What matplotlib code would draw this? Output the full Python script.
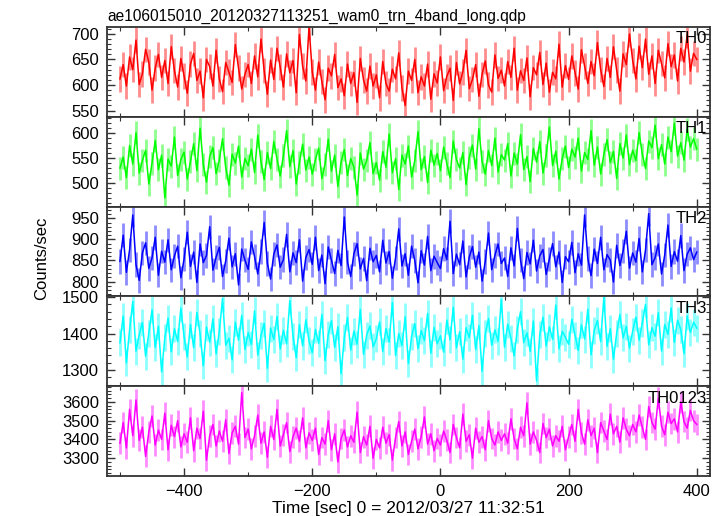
import matplotlib
matplotlib.use("Agg")
import matplotlib.pyplot as plt
import numpy as np
from matplotlib.ticker import MultipleLocator

plt.rcParams['font.family'] = ['Liberation Sans', 'DejaVu Sans']

# light curves, 5 s bins from -500 to 400 s
th0 = [612, 640, 598, 655, 630, 688, 601, 622, 670, 645, 590, 633, 660, 615, 648, 603, 675, 628, 596, 652,
       618, 584, 641, 662, 609, 627, 575, 650, 636, 598, 668, 612, 587, 644, 625, 605, 679, 633, 592, 621,
       640, 603, 657, 616, 690, 628, 582, 649, 611, 672, 635, 596, 661, 624, 648, 585, 699, 637, 608, 714,
       626, 590, 645, 607, 571, 633, 618, 660, 595, 612, 579, 641, 603, 624, 566, 652, 610, 588, 637, 598,
       620, 575, 646, 603, 588, 631, 612, 663, 594, 560, 627, 609, 650, 585, 616, 598, 641, 572, 622, 604,
       655, 589, 617, 633, 570, 644, 602, 626, 668, 593, 611, 640, 578, 621, 647, 600, 586, 659, 613, 629,
       598, 646, 615, 672, 590, 628, 609, 653, 577, 634, 620, 664, 601, 643, 586, 625, 612, 680, 596, 638,
       611, 657, 624, 592, 669, 637, 603, 646, 618, 683, 630, 597, 652, 615, 675, 629, 588, 661, 640, 700,
       648, 612, 676, 634, 690, 621, 657, 603, 668, 642, 614, 681, 636, 659, 608, 672, 645, 698, 627, 662, 650]
th1 = [530, 552, 511, 575, 538, 601, 520, 545, 566, 498, 540, 585, 527, 556, 470, 548, 534, 592, 515, 547,
       562, 508, 544, 579, 525, 610, 537, 502, 553, 571, 519, 546, 589, 531, 496, 558, 540, 574, 512, 549,
       535, 568, 521, 596, 543, 507, 561, 529, 583, 548, 514, 555, 605, 533, 565, 498, 541, 578, 526, 552,
       518, 547, 570, 509, 538, 588, 524, 556, 493, 542, 567, 515, 549, 532, 476, 560, 528, 545, 581, 519,
       541, 506, 563, 532, 598, 521, 549, 487, 556, 538, 574, 512, 545, 603, 527, 553, 501, 566, 536, 559,
       525, 572, 539, 511, 584, 547, 530, 561, 497, 552, 576, 528, 609, 543, 518, 565, 535, 590, 522, 557,
       546, 579, 514, 560, 538, 597, 527, 553, 503, 569, 542, 583, 520, 556, 612, 535, 564, 508, 549, 574,
       531, 568, 552, 590, 524, 561, 547, 605, 536, 572, 518, 558, 587, 541, 563, 509, 579, 550, 596, 537,
       566, 545, 601, 558, 529, 584, 571, 616, 549, 577, 538, 592, 563, 620, 554, 581, 546, 608, 572, 589, 568]
th2 = [848, 910, 822, 875, 958, 840, 803, 868, 892, 831, 856, 905, 815, 872, 846, 899, 828, 861, 884, 809,
       853, 917, 836, 870, 798, 889, 845, 862, 930, 827, 858, 881, 812, 849, 903, 835, 866, 792, 877, 851,
       829, 894, 859, 818, 871, 940, 843, 806, 865, 887, 834, 852, 912, 823, 868, 845, 899, 801, 857, 876,
       841, 905, 826, 863, 795, 882, 850, 819, 874, 838, 953, 846, 812, 866, 890, 830, 855, 802, 879, 847,
       862, 823, 898, 844, 871, 808, 856, 925, 837, 866, 815, 884, 850, 797, 873, 839, 907, 826, 860, 845,
       831, 878, 852, 943, 819, 865, 840, 896, 811, 858, 883, 834, 870, 801, 848, 915, 828, 862, 889, 843,
       856, 812, 880, 837, 926, 851, 807, 869, 842, 898, 825, 861, 876, 817, 853, 890, 835, 870, 798, 859,
       847, 893, 821, 866, 839, 958, 855, 814, 877, 843, 905, 828, 864, 851, 799, 886, 838, 872, 919, 832,
       868, 846, 902, 823, 875, 961, 840, 857, 889, 818, 863, 934, 836, 871, 848, 909, 826, 865, 880, 852, 870]
th3 = [1375, 1448, 1320, 1410, 1488, 1352, 1396, 1430, 1338, 1401, 1465, 1362, 1420, 1295, 1388, 1442, 1350, 1413, 1378, 1470,
       1392, 1336, 1425, 1361, 1458, 1399, 1312, 1418, 1376, 1440, 1345, 1405, 1496, 1368, 1387, 1328, 1431, 1382, 1450, 1357,
       1403, 1370, 1462, 1341, 1395, 1428, 1305, 1415, 1384, 1447, 1358, 1409, 1372, 1490, 1393, 1334, 1424, 1366, 1438, 1380,
       1348, 1411, 1373, 1452, 1326, 1398, 1435, 1362, 1419, 1290, 1389, 1444, 1355, 1407, 1371, 1466, 1343, 1396, 1421, 1364,
       1386, 1432, 1351, 1414, 1377, 1485, 1340, 1400, 1367, 1446, 1318, 1392, 1427, 1359, 1408, 1381, 1455, 1346, 1417, 1372,
       1394, 1349, 1437, 1383, 1472, 1361, 1405, 1330, 1416, 1389, 1450, 1356, 1422, 1297, 1399, 1441, 1368, 1410, 1379, 1493,
       1363, 1426, 1387, 1339, 1412, 1460, 1375, 1402, 1351, 1434, 1270, 1397, 1445, 1366, 1418, 1384, 1478, 1358, 1406, 1390,
       1371, 1439, 1396, 1354, 1424, 1385, 1467, 1342, 1409, 1436, 1378, 1499, 1365, 1413, 1330, 1401, 1452, 1388, 1420, 1360,
       1407, 1445, 1382, 1429, 1480, 1369, 1416, 1393, 1457, 1352, 1425, 1398, 1470, 1376, 1437, 1411, 1345, 1448, 1403, 1431, 1415]
th0123 = [3380, 3490, 3355, 3560, 3420, 3610, 3395, 3465, 3310, 3440, 3525, 3370, 3450, 3400, 3540, 3345, 3475, 3415, 3500, 3360,
          3430, 3385, 3515, 3340, 3460, 3405, 3550, 3290, 3420, 3480, 3365, 3445, 3390, 3505, 3325, 3435, 3470, 3375, 3650, 3410,
          3455, 3350, 3420, 3530, 3380, 3440, 3305, 3470, 3400, 3560, 3365, 3425, 3490, 3335, 3415, 3460, 3390, 3515, 3355, 3435,
          3395, 3460, 3320, 3410, 3375, 3500, 3345, 3430, 3280, 3405, 3450, 3360, 3420, 3385, 3545, 3330, 3415, 3370, 3470, 3300,
          3400, 3355, 3465, 3380, 3425, 3290, 3410, 3495, 3365, 3440, 3320, 3390, 3455, 3350, 3415, 3520, 3375, 3430, 3340, 3405,
          3370, 3445, 3395, 3330, 3480, 3410, 3355, 3535, 3390, 3425, 3300, 3460, 3385, 3415, 3345, 3500, 3405, 3370, 3440, 3395,
          3430, 3380, 3510, 3405, 3350, 3465, 3420, 3595, 3375, 3440, 3395, 3330, 3485, 3410, 3455, 3365, 3420, 3390, 3470, 3345,
          3415, 3480, 3390, 3560, 3435, 3375, 3505, 3420, 3460, 3330, 3490, 3445, 3400, 3535, 3430, 3470, 3385, 3515, 3455, 3420,
          3480, 3440, 3530, 3465, 3400, 3575, 3490, 3455, 3620, 3470, 3425, 3545, 3485, 3510, 3440, 3600, 3495, 3460, 3555, 3500, 3480]

series = [th0, th1, th2, th3, th0123]
names = ["TH0", "TH1", "TH2", "TH3", "TH0123"]
errors = [25, 23, 29, 37, 58]
colors = ["#ff0000", "#00ff00", "#0000ff", "#00ffff", "#ff00ff"]
ylims = [(538, 714), (453, 633), (765, 978), (1256, 1502), (3205, 3684)]
ymajor = [50, 50, 50, 100, 100]
yminor = [10, 10, 10, 20, 20]

t_start, t_bin = -500, 5

fig, axes = plt.subplots(5, 1, figsize=(7.24, 5.16), dpi=100, sharex=True)
fig.subplots_adjust(left=0.148, right=0.981, top=0.948, bottom=0.0775, hspace=0)

for ax, y, name, err, c, yl, mj, mn in zip(axes, series, names, errors, colors, ylims, ymajor, yminor):
    y = np.array(y)
    t = t_start + t_bin * np.arange(len(y))
    # error bars in a lighter shade, then the light curve itself
    ax.vlines(t, y - err, y + err, color=c, alpha=0.45, lw=2.0)
    ax.plot(t, y, color=c, lw=1.1)
    ax.set_ylim(*yl)
    ax.set_xlim(-520, 421)
    ax.yaxis.set_major_locator(MultipleLocator(mj))
    ax.yaxis.set_minor_locator(MultipleLocator(mn))
    ax.xaxis.set_major_locator(MultipleLocator(200))
    ax.xaxis.set_minor_locator(MultipleLocator(100))
    ax.tick_params(which='both', direction='in', top=True, right=True, labelsize=12,
                   colors='#333333', labelcolor='black', pad=6)
    ax.tick_params(which='major', length=6, width=1)
    ax.tick_params(which='minor', length=3, width=0.8)
    for s in ax.spines.values():
        s.set_linewidth(1.3)
        s.set_color('#333333')
    ax.text(0.995, 0.95, name, transform=ax.transAxes, ha='right', va='top', fontsize=12)

axes[0].set_title("ae106015010_20120327113251_wam0_trn_4band_long.qdp", loc='left', fontsize=11.2, pad=4)
axes[-1].set_xlabel("Time [sec] 0 = 2012/03/27 11:32:51", fontsize=12.5, labelpad=1)
fig.text(0.058, 0.5, "Counts/sec", rotation=90, ha='center', va='center', fontsize=12)

fig.savefig("out.png", dpi=100)
